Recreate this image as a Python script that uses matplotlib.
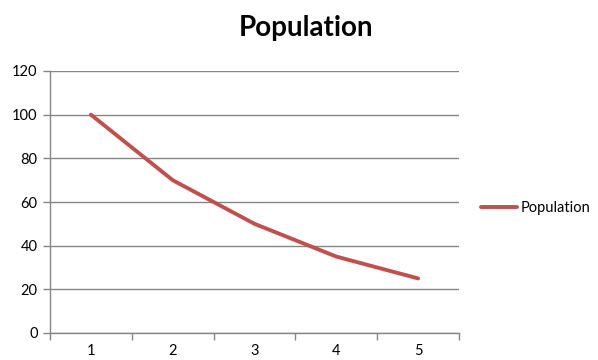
import numpy as np
import matplotlib.pyplot as plt

# Population per period
periods = [1, 2, 3, 4, 5]
population = [100, 70, 50, 35, 25]

plt.rcParams['font.family'] = ['Lato', 'DejaVu Sans']

fig = plt.figure(figsize=(5.98, 3.6), dpi=100)
ax = fig.add_axes([50 / 598, 27 / 360, 409 / 598, 262 / 360])

ax.plot(periods, population, color='#C0504D', linewidth=2.8,
        solid_capstyle='round', label='Population')

ax.set_xlim(0.5, 5.5)
ax.set_ylim(0, 120)
ax.set_yticks(np.arange(0, 121, 20))
ax.set_xticks(periods)
ax.set_xticks(np.arange(0.5, 5.6, 1), minor=True)
ax.tick_params(axis='x', which='major', length=0, pad=8, labelsize=10.5, labelcolor='#000000')
ax.tick_params(axis='x', which='minor', length=5, color='#868686', width=1)
ax.tick_params(axis='y', length=5, color='#868686', width=1, pad=4, labelsize=10.5)

ax.grid(axis='y', color='#868686', linewidth=1)
ax.set_axisbelow(True)
for side in ['top', 'right']:
    ax.spines[side].set_visible(False)
for side in ['left', 'bottom']:
    ax.spines[side].set_color('#868686')
    ax.spines[side].set_linewidth(1)

fig.text(306 / 598, 1 - 28 / 360, 'Population', ha='center', va='center',
         fontsize=20, fontweight='bold')

ax.legend(loc='center left', bbox_to_anchor=(481 / 598, 1 - 208 / 360),
          bbox_transform=fig.transFigure, frameon=False, fontsize=10.5,
          borderpad=0, borderaxespad=0, handlelength=2.5, handletextpad=0.2)

fig.savefig('out.png', dpi=100)
